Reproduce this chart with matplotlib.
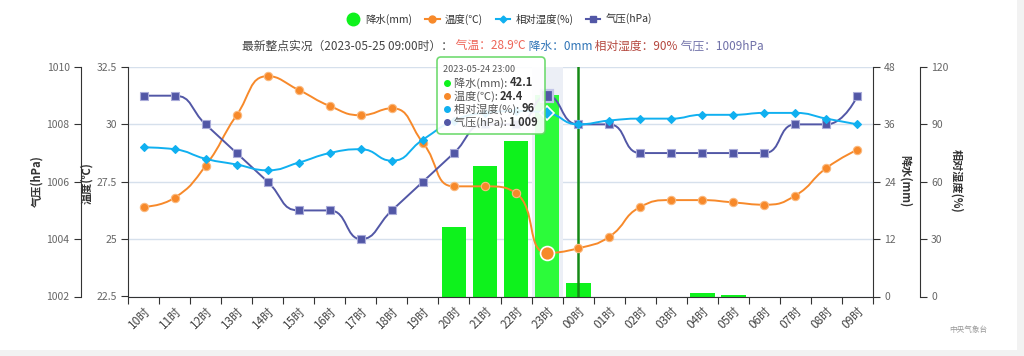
import numpy as np
import matplotlib
matplotlib.use('Agg')
import matplotlib.pyplot as plt
from matplotlib.path import Path
from matplotlib.patches import PathPatch, FancyBboxPatch, Rectangle
from matplotlib.lines import Line2D
from matplotlib.transforms import IdentityTransform

plt.rcParams['font.family'] = ['Noto Sans CJK SC', 'DejaVu Sans']

# hourly observations, 2023-05-24 10时 .. 2023-05-25 09时
hours = ['10时', '11时', '12时', '13时', '14时', '15时', '16时', '17时', '18时', '19时',
         '20时', '21时', '22时', '23时', '00时', '01时', '02时', '03时', '04时', '05时',
         '06时', '07时', '08时', '09时']
precip = [0, 0, 0, 0, 0, 0, 0, 0, 0, 0, 14.6, 27.3, 32.5, 42.1, 2.9, 0, 0, 0, 0.8, 0.4, 0, 0, 0, 0]
temp = [26.4, 26.8, 28.2, 30.4, 32.1, 31.5, 30.8, 30.4, 30.7, 29.2, 27.3, 27.3, 27.0, 24.4,
        24.6, 25.1, 26.4, 26.7, 26.7, 26.6, 26.5, 26.9, 28.1, 28.9]
humid = [78, 77, 72, 69, 66, 70, 75, 77, 71, 82, 92, 96, 97, 96, 90, 92, 93, 93, 95, 95, 96, 96, 93, 90]
pressure = [1009, 1009, 1008, 1007, 1006, 1005, 1005, 1004, 1005, 1006, 1007, 1008, 1008, 1009,
            1008, 1008, 1007, 1007, 1007, 1007, 1007, 1008, 1008, 1009]

tip_idx = 13          # hovered hour (tooltip)
now_idx = 14          # latest-hour marker line
tip_time = '2023-05-24 23:00'
latest_time = '2023-05-25 09:00时'

W, H = 1024, 356
GREEN = '#0ef21c'
ORANGE = '#f7892a'
CYAN = '#10b0f0'
PURPLE = '#5257a6'
AXC = '#333333'
TICKC = '#666666'


def smooth_path(xs, ys, sx, sy, smooth=0.5):
    """echarts-like smoothed polyline as a cubic bezier Path (data coords)."""
    pts = [(x * sx, y * sy) for x, y in zip(xs, ys)]
    verts = [pts[0]]
    codes = [Path.MOVETO]
    cp0 = pts[0]
    n = len(pts)
    for i in range(1, n):
        x, y = pts[i]
        px, py = pts[i - 1]
        if i == n - 1:
            cp1 = (x, y)
            ncp0 = None
        else:
            nx, ny = pts[i + 1]
            vx, vy = nx - px, ny - py
            lp = np.hypot(x - px, y - py)
            ln = np.hypot(nx - x, ny - y)
            r = ln / (ln + lp)
            ncx = x + vx * smooth * r
            ncy = y + vy * smooth * r
            ncx = max(min(ncx, max(nx, x)), min(nx, x))
            ncy = max(min(ncy, max(ny, y)), min(ny, y))
            vx, vy = ncx - x, ncy - y
            c1x = x - vx * lp / ln
            c1y = y - vy * lp / ln
            c1x = max(min(c1x, max(px, x)), min(px, x))
            c1y = max(min(c1y, max(py, y)), min(py, y))
            vx, vy = x - c1x, y - c1y
            ncp0 = (x + vx * ln / lp, y + vy * ln / lp)
            cp1 = (c1x, c1y)
        verts += [cp0, cp1, (x, y)]
        codes += [Path.CURVE4] * 3
        cp0 = ncp0
    verts = [(a / sx, b / sy) for a, b in verts]
    return Path(verts, codes)


fig = plt.figure(figsize=(W / 100, H / 100), dpi=100)
left, right, top, bottom = 128, 873, 67, 296.5
ax = fig.add_axes([left / W, 1 - bottom / H, (right - left) / W, (bottom - top) / H])
tax = ax.twinx()
pax = ax.twinx()
hax = ax.twinx()

x = np.arange(len(hours))
sx = (right - left) / len(hours)
plot_h = bottom - top

# precipitation axis (right, inner)
ax.set_xlim(-0.5, len(hours) - 0.5)
ax.set_ylim(0, 48)
ax.set_yticks(np.arange(0, 49, 12))
ax.yaxis.tick_right()
ax.grid(axis='y', color='#d6e0ec', lw=1)
ax.set_axisbelow(True)
for s in ['top', 'left']:
    ax.spines[s].set_visible(False)
ax.spines['right'].set_color(AXC)
ax.spines['bottom'].set_color(AXC)
ax.axvspan(tip_idx - 0.5, tip_idx + 0.5, color='#eceff6', lw=0, zorder=1)
bar_colors = [GREEN] * len(hours)
bar_colors[tip_idx] = '#2cfb3a'
ax.bar(x, precip, width=0.8, color=bar_colors, zorder=2)
ax.axvline(now_idx, color='#158a15', lw=1.8, zorder=3)

ax.set_xticks(np.arange(-0.5, len(hours), 1))
ax.set_xticklabels([])
ax.set_xticks(x, minor=True)
ax.set_xticklabels(hours, minor=True, rotation=45, ha='right', rotation_mode='anchor')
ax.tick_params(axis='x', which='major', length=5, color=AXC)
ax.tick_params(axis='x', which='minor', length=0, pad=6, labelsize=8.5, labelcolor='#444444')
ax.tick_params(axis='y', length=5, color=AXC, labelsize=7.5, labelcolor=TICKC, pad=3)

# temperature axis (left, inner)
tax.set_ylim(22.5, 32.5)
tax.set_yticks(np.arange(22.5, 32.6, 2.5))
tax.set_yticklabels(['22.5', '25', '27.5', '30', '32.5'])
tax.yaxis.tick_left()
# pressure axis (left, outer)
pax.set_ylim(1002, 1010)
pax.set_yticks(np.arange(1002, 1011, 2))
pax.yaxis.tick_left()
pax.spines['left'].set_position(('axes', -(left - 80.7) / (right - left)))
# humidity axis (right, outer)
hax.set_ylim(0, 120)
hax.set_yticks(np.arange(0, 121, 30))
hax.yaxis.tick_right()
hax.spines['right'].set_position(('axes', (920 - left) / (right - left)))

for a, side in [(tax, 'left'), (pax, 'left'), (hax, 'right')]:
    for s in ['top', 'bottom', 'left', 'right']:
        a.spines[s].set_visible(s == side)
    a.spines[side].set_color(AXC)
    a.tick_params(axis='y', length=5, color=AXC, labelsize=7.5, labelcolor=TICKC, pad=3)

# lines
series = [
    (tax, temp, ORANGE, 'o', 6, '#fbb97e', plot_h / 10),
    (hax, humid, CYAN, 'D', 3.6, CYAN, plot_h / 120),
    (pax, pressure, PURPLE, 's', 6, '#a9abd9', plot_h / 8),
]
for a, vals, col, mk, ms, mec, sy in series:
    a.add_patch(PathPatch(smooth_path(x, vals, sx, sy), fill=False, edgecolor=col, lw=1.4, zorder=2))
    a.plot(x, vals, linestyle='none', marker=mk, ms=ms, color=col, mec=mec, mew=0.8, zorder=3)

tax.plot([x[tip_idx]], [temp[tip_idx]], marker='o', ms=10, color=ORANGE, mec='white', mew=1.2, zorder=4)
hax.plot([x[tip_idx]], [humid[tip_idx]], marker='D', ms=7, color=CYAN, mec='white', mew=1.2, zorder=4)
pax.plot([x[tip_idx]], [pressure[tip_idx]], marker='s', ms=9, color=PURPLE, mec='#c3c5e8', mew=1.6, zorder=4)

# axis titles
fig.text(37 / W, 1 - 181 / H, '气压(hPa)', rotation=90, ha='center', va='center',
         fontsize=8, fontweight='bold', color=AXC)
fig.text(87 / W, 1 - 183 / H, '温度(℃)', rotation=90, ha='center', va='center',
         fontsize=8, fontweight='bold', color=AXC)
fig.text(905 / W, 1 - 181 / H, '降水(mm)', rotation=-90, ha='center', va='center',
         fontsize=8, fontweight='bold', color=AXC)
fig.text(957 / W, 1 - 181 / H, '相对湿度(%)', rotation=-90, ha='center', va='center',
         fontsize=8, fontweight='bold', color=AXC)

# legend
handles = [
    Line2D([], [], linestyle='none', marker='o', ms=9, color=GREEN),
    Line2D([], [], color=ORANGE, lw=1.5, marker='o', ms=5),
    Line2D([], [], color=CYAN, lw=1.5, marker='D', ms=3.5),
    Line2D([], [], color=PURPLE, lw=1.5, marker='s', ms=5),
]
fig.legend(handles, ['降水(mm)', '温度(℃)', '相对湿度(%)', '气压(hPa)'], loc='center',
           bbox_to_anchor=(499 / W, 1 - 19 / H), ncol=4, frameon=False, fontsize=7.5,
           handlelength=1.4, columnspacing=1.2, handletextpad=0.5, labelcolor=AXC)

renderer = fig.canvas.get_renderer()


def put_seq(x_px, y_px, pieces, fontsize, center=False):
    texts = []
    for s, col, wt in pieces:
        texts.append(fig.text(0, 1 - y_px / H, s, color=col, fontsize=fontsize,
                              fontweight=wt, va='center', ha='left', zorder=7))
    widths = [t.get_window_extent(renderer).width for t in texts]
    xx = x_px - sum(widths) / 2 if center else x_px
    for t, w in zip(texts, widths):
        t.set_x(xx / W)
        xx += w


# subtitle
put_seq(503, 46, [
    ('最新整点实况（%s）：' % latest_time, '#444444', 'normal'),
    (' 气温：%.1f℃' % temp[-1], '#ee6457', 'normal'),
    (' 降水：%gmm' % precip[-1], '#2e73b6', 'normal'),
    (' 相对湿度：%d%%' % humid[-1], '#b5483f', 'normal'),
    (' 气压：%dhPa' % pressure[-1], '#6f70a8', 'normal'),
], 8.5, center=True)

# tooltip
box = FancyBboxPatch((437, H - 134), 108, 77, boxstyle='round,pad=0,rounding_size=4',
                     transform=IdentityTransform(), facecolor='white', alpha=0.9,
                     edgecolor='#62d862', lw=1.2, zorder=6)
fig.add_artist(box)
fig.text(443 / W, 1 - 69 / H, tip_time, fontsize=6.5, color='#555555', va='center', zorder=7)
tip_rows = [
    (GREEN, '降水(mm): ', '%.1f' % precip[tip_idx]),
    (ORANGE, '温度(℃): ', '%.1f' % temp[tip_idx]),
    (CYAN, '相对湿度(%): ', '%d' % humid[tip_idx]),
    (PURPLE, '气压(hPa): ', '{:,}'.format(pressure[tip_idx]).replace(',', ' ')),
]
for k, (col, lab, val) in enumerate(tip_rows):
    yy = 83 + 13 * k
    fig.add_artist(Line2D([446.5 / W], [1 - yy / H], transform=fig.transFigure, marker='o',
                          ms=4, color=col, linestyle='none', zorder=7))
    put_seq(453.5, yy, [(lab, '#555555', 'normal'), (val, '#333333', 'bold')], 8)

# page frame and source
fig.add_artist(Rectangle((1017 / W, 0), 7 / W, 1, transform=fig.transFigure,
                         facecolor='#f2f2f2', lw=0, zorder=0))
fig.add_artist(Rectangle((0, 0), 1, 6 / H, transform=fig.transFigure,
                         facecolor='#f2f2f2', lw=0, zorder=0))
fig.text(968 / W, 1 - 330 / H, '中央气象台', fontsize=5.5, color='#999999', ha='center', va='center')

fig.savefig('out.png', dpi=100)
